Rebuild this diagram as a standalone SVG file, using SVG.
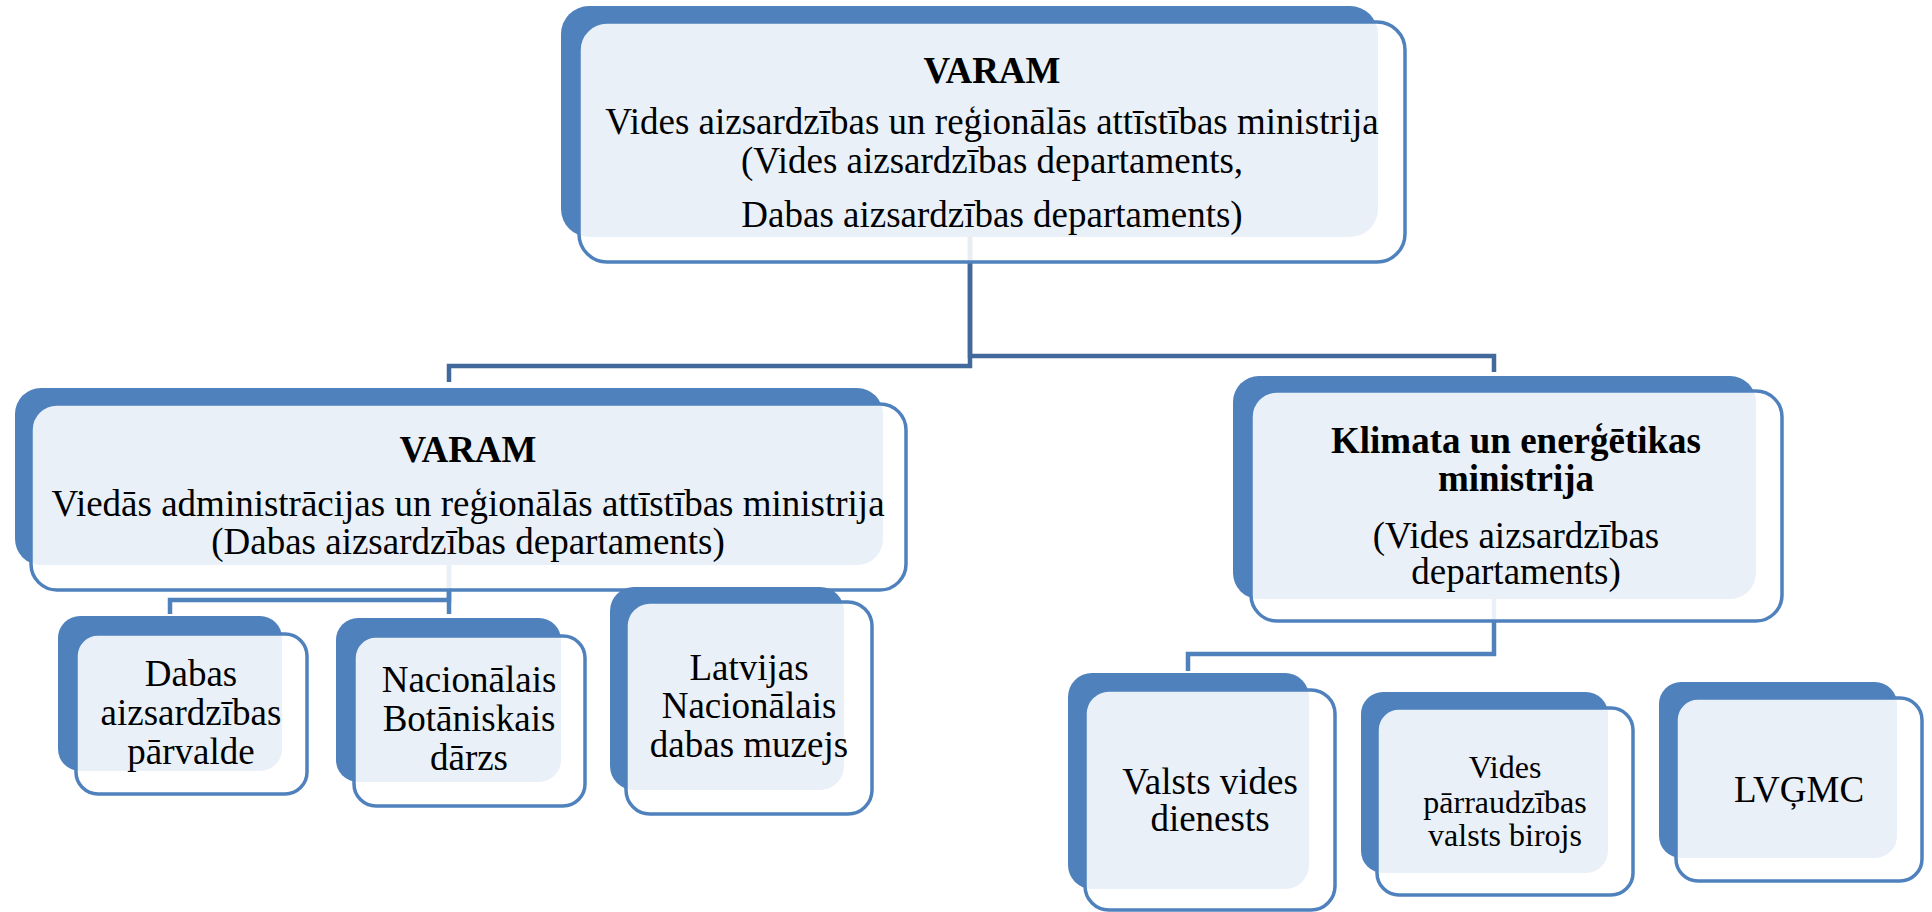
<svg xmlns="http://www.w3.org/2000/svg" width="1932" height="912" viewBox="0 0 1932 912">
<style>
.back{fill:#4F81BD;}
.front{fill:#FFFFFF;fill-opacity:0.88;stroke:#4F81BD;stroke-width:3.5;}
.t{font-family:"Liberation Serif","Times New Roman",serif;font-size:37px;fill:#000;text-anchor:middle;}
.b{font-weight:bold;}
.s{font-size:32px;}
.c1{fill:none;stroke:#41699B;stroke-width:4.5;}
.c2{fill:none;stroke:#4F81BD;stroke-width:4.5;}
</style>
<rect width="1932" height="912" fill="#FFFFFF"/>
<g id="connectors">
<path class="c1" d="M970,237 V366 H449 V382"/>
<path class="c1" d="M970,237 V356 H1494 V372"/>
<path class="c2" d="M449,564 V600 H170 V614"/>
<path class="c2" d="M449,564 V614"/>
<path class="c2" d="M1494,598 V654 H1188 V671"/>
</g>
<g id="node-varam-top">
<rect class="back" x="561" y="6" width="817" height="231" rx="28"/>
<rect class="front" x="579" y="22" width="826" height="240" rx="28"/>
<text class="t b" x="992" y="83">VARAM</text>
<text class="t" x="992" y="134">Vides aizsardzības un reģionālās attīstības ministrija</text>
<text class="t" x="992" y="173">(Vides aizsardzības departaments,</text>
<text class="t" x="992" y="227">Dabas aizsardzības departaments)</text>
</g>
<g id="node-varam-left">
<rect class="back" x="15" y="388" width="868" height="177" rx="26"/>
<rect class="front" x="31" y="404" width="875" height="186" rx="26"/>
<text class="t b" x="468" y="462">VARAM</text>
<text class="t" x="468" y="516">Viedās administrācijas un reģionālās attīstības ministrija</text>
<text class="t" x="468" y="554">(Dabas aizsardzības departaments)</text>
</g>
<g id="node-kem">
<rect class="back" x="1233" y="376" width="523" height="223" rx="26"/>
<rect class="front" x="1251" y="391" width="531" height="230" rx="26"/>
<text class="t b" x="1516" y="453">Klimata un enerģētikas</text>
<text class="t b" x="1516" y="491">ministrija</text>
<text class="t" x="1516" y="548">(Vides aizsardzības</text>
<text class="t" x="1516" y="584">departaments)</text>
</g>
<g id="node-dap">
<rect class="back" x="58" y="616" width="224" height="155" rx="22"/>
<rect class="front" x="76" y="634" width="231" height="160" rx="22"/>
<text class="t" x="191" y="686">Dabas</text>
<text class="t" x="191" y="725">aizsardzības</text>
<text class="t" x="191" y="764">pārvalde</text>
</g>
<g id="node-nbd">
<rect class="back" x="336" y="618" width="225" height="164" rx="22"/>
<rect class="front" x="354" y="636" width="231" height="170" rx="22"/>
<text class="t" x="469" y="692">Nacionālais</text>
<text class="t" x="469" y="731">Botāniskais</text>
<text class="t" x="469" y="770">dārzs</text>
</g>
<g id="node-lndm">
<rect class="back" x="610" y="587" width="234" height="203" rx="24"/>
<rect class="front" x="626" y="602" width="246" height="212" rx="24"/>
<text class="t" x="749" y="680">Latvijas</text>
<text class="t" x="749" y="718">Nacionālais</text>
<text class="t" x="749" y="757">dabas muzejs</text>
</g>
<g id="node-vvd">
<rect class="back" x="1068" y="673" width="241" height="216" rx="24"/>
<rect class="front" x="1085" y="690" width="250" height="220" rx="24"/>
<text class="t" x="1210" y="794">Valsts vides</text>
<text class="t" x="1210" y="831">dienests</text>
</g>
<g id="node-vpvb">
<rect class="back" x="1361" y="692" width="247" height="181" rx="22"/>
<rect class="front" x="1377" y="708" width="256" height="187" rx="22"/>
<text class="t s" x="1505" y="778">Vides</text>
<text class="t s" x="1505" y="813">pārraudzības</text>
<text class="t s" x="1505" y="846">valsts birojs</text>
</g>
<g id="node-lvgmc">
<rect class="back" x="1659" y="682" width="238" height="176" rx="22"/>
<rect class="front" x="1676" y="698" width="246" height="183" rx="22"/>
<text class="t" x="1799" y="802">LVĢMC</text>
</g>
</svg>
